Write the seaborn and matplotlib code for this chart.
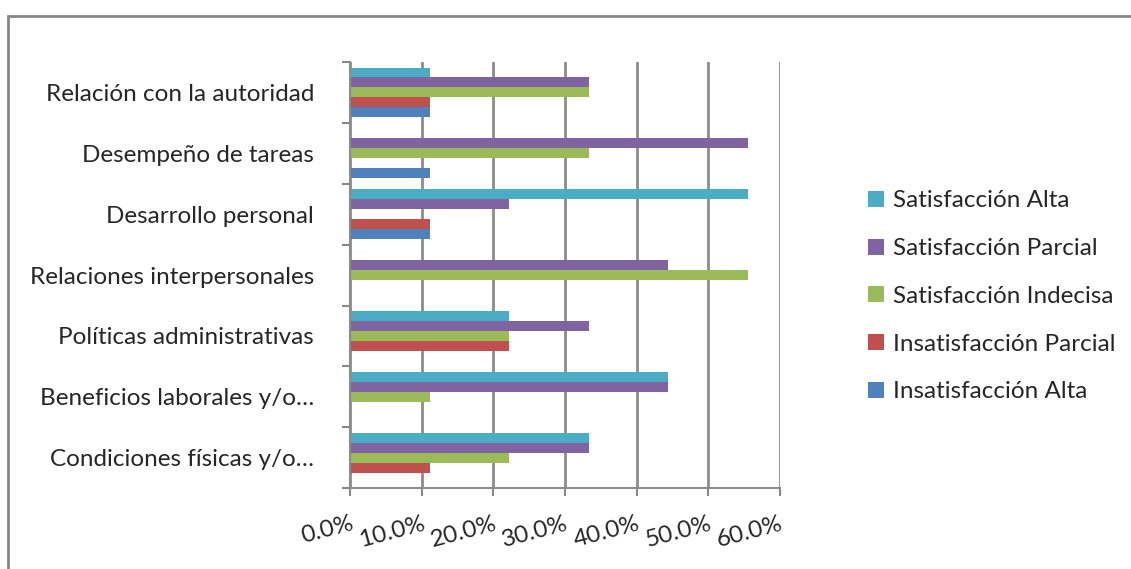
import matplotlib
matplotlib.use("Agg")
import matplotlib.pyplot as plt
import seaborn as sns
import pandas as pd
from matplotlib.patches import Rectangle
from matplotlib.ticker import FuncFormatter

categories = [
    "Relación con la autoridad",
    "Desempeño de tareas",
    "Desarrollo personal",
    "Relaciones interpersonales",
    "Políticas administrativas",
    "Beneficios laborales y/o…",
    "Condiciones físicas y/o…",
]
series = [
    "Satisfacción Alta",
    "Satisfacción Parcial",
    "Satisfacción Indecisa",
    "Insatisfacción Parcial",
    "Insatisfacción Alta",
]
satisfaccion_alta = [0.111, 0.0, 0.556, 0.0, 0.222, 0.444, 0.333]
satisfaccion_parcial = [0.333, 0.556, 0.222, 0.444, 0.333, 0.444, 0.333]
satisfaccion_indecisa = [0.333, 0.333, 0.0, 0.556, 0.222, 0.111, 0.222]
insatisfaccion_parcial = [0.111, 0.0, 0.111, 0.0, 0.222, 0.0, 0.111]
insatisfaccion_alta = [0.111, 0.111, 0.111, 0.0, 0.0, 0.0, 0.0]
x_ticks = [0.0, 0.1, 0.2, 0.3, 0.4, 0.5, 0.6]

colors = ["#4BACC6", "#8064A2", "#9BBB59", "#C0504D", "#4F81BD"]

values = [satisfaccion_alta, satisfaccion_parcial, satisfaccion_indecisa,
          insatisfaccion_parcial, insatisfaccion_alta]
rows = []
for name, vals in zip(series, values):
    for cat, v in zip(categories, vals):
        rows.append({"categoria": cat, "serie": name, "valor": v})
df = pd.DataFrame(rows)

sns.set_style("white")
plt.rcParams["font.family"] = ["Lato", "DejaVu Sans"]

FS = 17.5

fig = plt.figure(figsize=(11.31, 5.69), dpi=100)
ax = fig.add_axes([0.3095, 0.142, 0.380, 0.749])

sns.barplot(data=df, y="categoria", x="valor", hue="serie",
            order=categories, hue_order=series, palette=colors,
            orient="h", ax=ax, width=0.82, linewidth=0, saturation=1,
            legend=True)

ax.set_xlim(0, 0.6)
ax.set_ylim(6.5, -0.5)
ax.set_xticks(x_ticks)
ax.xaxis.set_major_formatter(FuncFormatter(lambda v, p: f"{v*100:.1f}%"))
ax.tick_params(axis="x", length=6, width=1.5, color="#888888", pad=12,
               labelsize=FS, direction="out", bottom=True)
for t in ax.get_xticklabels():
    t.set_rotation(15)
    t.set_ha("right")
    t.set_rotation_mode("anchor")
ax.set_yticks([i - 0.5 for i in range(len(categories) + 1)], minor=True)
ax.tick_params(axis="y", which="minor", length=6, width=1.5, color="#888888",
               direction="out", left=True)
ax.tick_params(axis="y", which="major", length=0, pad=26, labelsize=FS)
ax.set_xlabel("")
ax.set_ylabel("")

ax.grid(axis="x", color="#8c8c8c", linewidth=2)
ax.set_axisbelow(True)
for side in ["top", "right"]:
    ax.spines[side].set_visible(False)
for side in ["left", "bottom"]:
    ax.spines[side].set_color("#8c8c8c")
    ax.spines[side].set_linewidth(1.5)

leg = ax.legend(loc="center left", bbox_to_anchor=(1.155, 0.45), frameon=False,
                fontsize=FS, handlelength=0.65, handleheight=0.65,
                handletextpad=0.35, labelspacing=1.1)

fig.patches.append(Rectangle((8 / 1131, -0.1), 1.2, 1.1 - 16 / 569,
                             transform=fig.transFigure, fill=False,
                             edgecolor="#878787", linewidth=2))

fig.savefig("out.png", dpi=100)
